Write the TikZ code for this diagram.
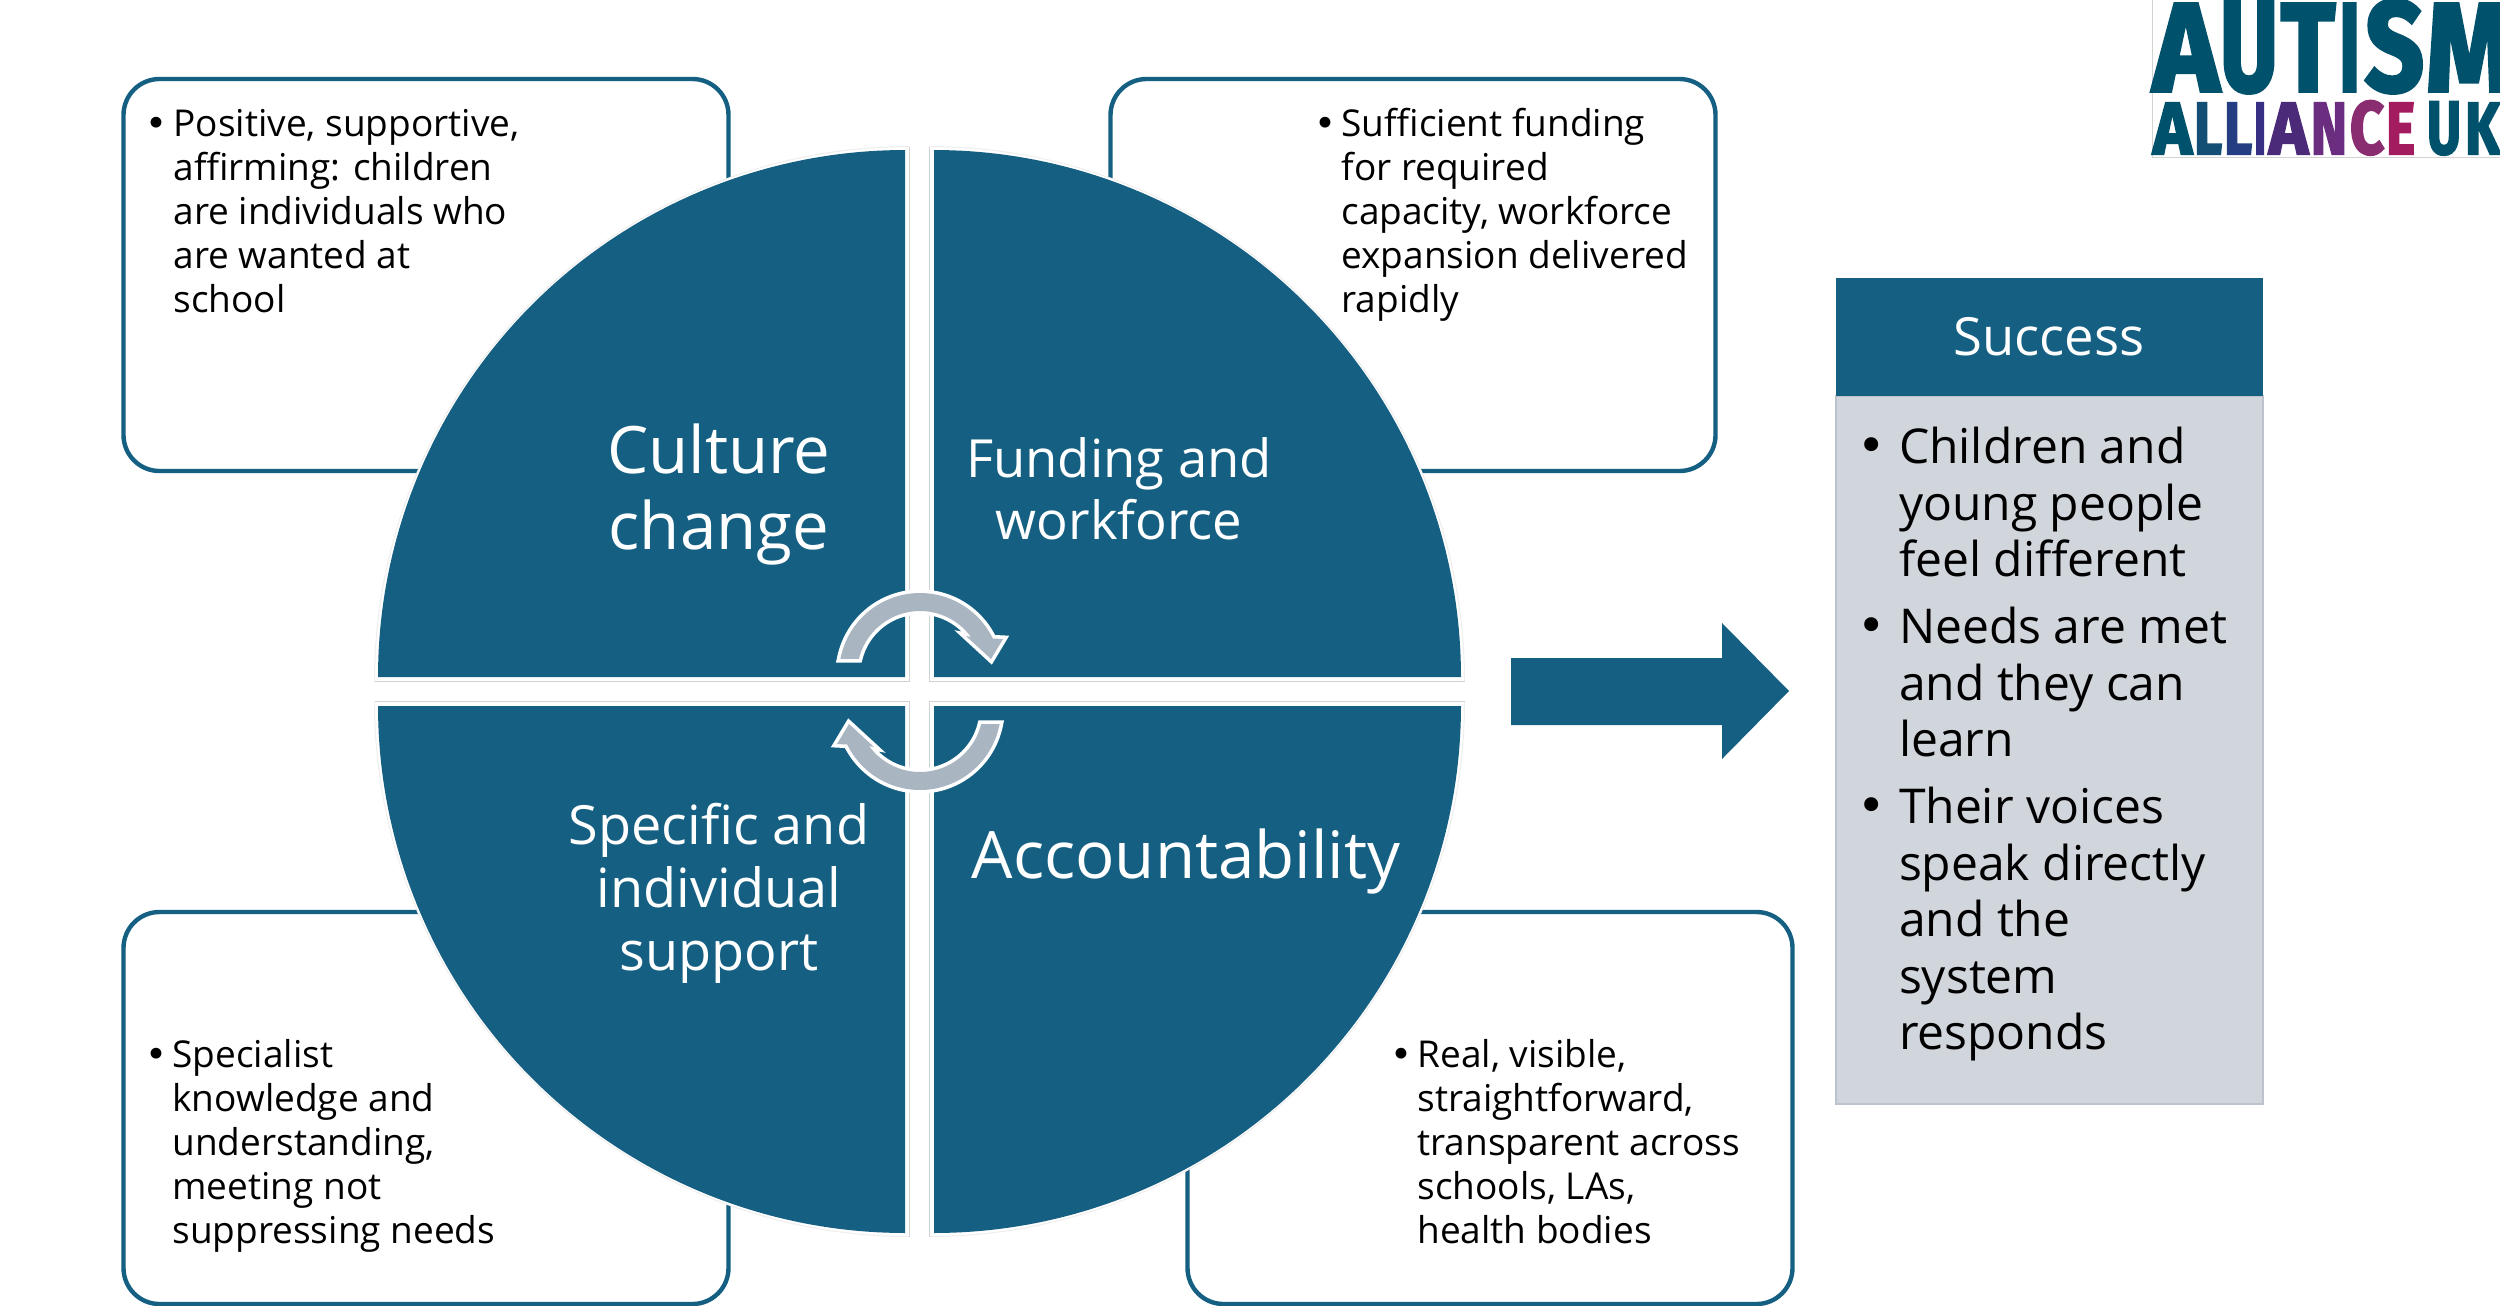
\documentclass[tikz,border=0pt]{standalone}
\usepackage{fontspec}
\usepackage{graphicx}
\setmainfont{Open Sans}
\newfontfamily\logofont[FakeBold=3]{Fira Sans}
\newfontfamily\bulletfont{DejaVu Sans}
\definecolor{teal}{HTML}{156082}
\definecolor{panel}{HTML}{D1D5DC}
\definecolor{panelline}{HTML}{BCC3CC}
\definecolor{cyc}{HTML}{A9B5C1}
\definecolor{halo}{HTML}{D2D2D2}
\definecolor{halob}{HTML}{EEEEEE}
\definecolor{logoblue}{HTML}{00516C}
\definecolor{lgA}{HTML}{134F74}
\definecolor{lgB}{HTML}{253D83}
\definecolor{lgC}{HTML}{362F83}
\definecolor{lgD}{HTML}{4B2A7A}
\definecolor{lgE}{HTML}{6A2D80}
\definecolor{lgF}{HTML}{8A2C70}
\definecolor{lgG}{HTML}{A31C60}
\newcommand{\LL}[7]{%
  \pgfmathsetlengthmacro{\lw}{(#3-#2)*0.5pt}%
  \pgfmathsetlengthmacro{\lh}{(#5-#4)*0.5pt}%
  \node[inner sep=0,outer sep=0,anchor=south west,text=#6] (#1) at (#2,#5)
    {\resizebox{\lw}{\lh}{\logofont\bfseries #7}};}
\newcommand{\cyclearrow}{%
  \path[preaction={draw=white,line width=3.6pt,line join=miter},fill=cyc]
    plot[domain=190.7:334,samples=50] ({920+81*cos(\x)},{674+81*sin(\x)})
    -- (1003,639) -- (991,659) -- (966,636) -- (977,638)
    -- plot[domain=326:193.8,samples=50] ({920+63*cos(\x)},{674+63*sin(\x)})
    -- cycle;}
% corner x, corner y, from angle, to angle
\newcommand{\quadhalo}[4]{%
  \fill[white] (#1,#2) -- plot[domain=#3:#4,samples=90] ({#1+535*cos(\x)},{#2+535*sin(\x)}) -- cycle;
  \draw[halob,line width=0.5pt] plot[domain=#3:#4,samples=90] ({#1+535*cos(\x)},{#2+535*sin(\x)});
  \draw[halo,line width=0.6pt] ({#1+535*cos(#3)},{#2+535*sin(#3)}) -- (#1,#2) -- ({#1+535*cos(#4)},{#2+535*sin(#4)});}
\tikzset{
  x=0.5pt,y=-0.5pt,
  box/.style={draw=teal,fill=white,line width=2.2pt,rounded corners=18pt,inner sep=0,outer sep=0},
  small/.style={inner sep=0,outer sep=0,anchor=base west,font=\fontsize{18.5}{22}\selectfont},
  smallb/.style={inner sep=0,outer sep=0,anchor=base,font=\bulletfont\fontsize{18.6}{22}\selectfont},
  big/.style={inner sep=0,outer sep=0,text=white,align=center,anchor=base},
  succ/.style={inner sep=0,outer sep=0,anchor=base west,font=\fontsize{24}{28.25}\selectfont},
  succb/.style={inner sep=0,outer sep=0,anchor=base,font=\bulletfont\fontsize{24}{28.25}\selectfont},
}
\newcommand{\lines}[2]{\parbox[t]{#1}{\raggedright #2}}
\begin{document}
\begin{tikzpicture}
\useasboundingbox (0,0) rectangle (2500,1306);
\fill[white] (0,0) rectangle (2500,1306);
% text boxes
\node[box,minimum width=302.5pt,minimum height=196pt] (tl) at (426,275) {};
\node[box,minimum width=302.5pt,minimum height=196pt] (tr) at (1413,275) {};
\node[box,minimum width=302.5pt,minimum height=196pt] (bl) at (426,1108) {};
\node[box,minimum width=302.5pt,minimum height=196pt] (br) at (1490,1108) {};
% quadrants: white halos
\quadhalo{909.5}{681.5}{180}{270}
\quadhalo{929.5}{681.5}{270}{360}
\quadhalo{909.5}{701.5}{90}{180}
\quadhalo{929.5}{701.5}{0}{90}
% quadrants
\fill[teal] (905,677) -- plot[domain=180:270,samples=90] ({905+527*cos(\x)},{677+527*sin(\x)}) -- cycle;
\fill[teal] (934,677) -- plot[domain=270:360,samples=90] ({934+527*cos(\x)},{677+527*sin(\x)}) -- cycle;
\fill[teal] (905,706) -- plot[domain=90:180,samples=90] ({905+527*cos(\x)},{706+527*sin(\x)}) -- cycle;
\fill[teal] (934,706) -- plot[domain=0:90,samples=90] ({934+527*cos(\x)},{706+527*sin(\x)}) -- cycle;
% cycle arrows
\cyclearrow
\begin{scope}[rotate around={180:(920,691.5)}]
\cyclearrow
\end{scope}
% big arrow
\fill[teal] (1511,658) -- (1722,658) -- (1722,623) -- (1789,691) -- (1722,759) -- (1722,725) -- (1511,725) -- cycle;
% success panel
\node[draw=panelline,fill=panel,line width=0.6pt,minimum width=213.5pt,minimum height=354pt,inner sep=0,outer sep=0] (body) at (2049.5,750) {};
\node[fill=teal,minimum width=213.5pt,minimum height=59pt,inner sep=0,outer sep=0] (head) at (2049.5,337) {};
\node[inner sep=0,outer sep=0,anchor=base,text=white,font=\fontsize{26.3}{28}\selectfont] (succt) at (2049,355) {Success};
% big labels
\node[big,font=\fontsize{32.7}{38}\selectfont] (c1) at (719,549) {Culture\\change};
\node[big,font=\fontsize{26.3}{31}\selectfont] (f1) at (1119,539) {Funding and\\workforce};
\node[big,font=\fontsize{27}{31.5}\selectfont] (s1) at (719,970) {Specific and\\individual\\support};
\node[big,font=\fontsize{32.7}{38}\selectfont] (a1) at (1186,878) {Accountability};
% box texts
\node[smallb] (btl) at (156,136) {•};
\node[small] (ttl) at (173.5,136) {\lines{200pt}{Positive, supportive,\\affirming: children\\are individuals who\\are wanted at\\school}};
\node[smallb] (btr) at (1325,136) {•};
\node[small] (ttr) at (1341.5,136) {\lines{200pt}{Sufficient funding\\for required\\capacity, workforce\\expansion delivered\\rapidly}};
\node[smallb] (bbl) at (156,1067) {•};
\node[small] (tbl) at (172.5,1067) {\lines{200pt}{Specialist\\knowledge and\\understanding,\\meeting not\\suppressing needs}};
\node[smallb] (bbr) at (1401,1067) {•};
\node[small] (tbr) at (1417.5,1067) {\lines{200pt}{Real, visible,\\straightforward,\\transparent across\\schools, LAs,\\health bodies}};
% success list
\node[succb] (sb1) at (1872,462) {•};
\node[succ] (st1) at (1899,463.5) {\lines{190pt}{Children and\\young people\\feel different}};
\node[succb] (sb2) at (1872,642) {•};
\node[succ] (st2) at (1899,643.5) {\lines{190pt}{Needs are met\\and they can\\learn}};
\node[succb] (sb3) at (1872,822) {•};
\node[succ] (st3) at (1899,823.5) {\lines{190pt}{Their voices\\speak directly\\and the\\system\\responds}};
% logo
\draw[halo,line width=0.5pt] (2152,0) -- (2152,157) -- (2500,157);
\LL{la}{2153}{2219}{4}{91}{logoblue}{A}
\LL{lu}{2220}{2278}{4}{93}{logoblue}{U}
\LL{lt}{2281}{2335}{4}{91}{logoblue}{T}
\LL{li}{2339}{2360}{4}{91}{logoblue}{I}
\LL{ls}{2365}{2424}{2}{93}{logoblue}{S}
\LL{lm}{2426}{2512}{4}{91}{logoblue}{M}
\LL{a1l}{2153}{2192}{103}{154}{logoblue}{A}
\LL{a2l}{2194}{2222}{103}{154}{lgA}{L}
\LL{a3l}{2224}{2252}{103}{154}{lgB}{L}
\LL{a4l}{2254}{2266}{103}{154}{lgC}{I}
\LL{a5l}{2269}{2308}{103}{154}{lgD}{A}
\LL{a6l}{2311}{2347}{103}{154}{lgE}{N}
\LL{a7l}{2350}{2384}{102}{155}{lgF}{C}
\LL{a8l}{2386}{2415}{103}{154}{lgG}{E}
\LL{u1l}{2427}{2461}{103}{155}{logoblue}{U}
\LL{k1l}{2465}{2500}{103}{154}{logoblue}{K}
\end{tikzpicture}
\end{document}
